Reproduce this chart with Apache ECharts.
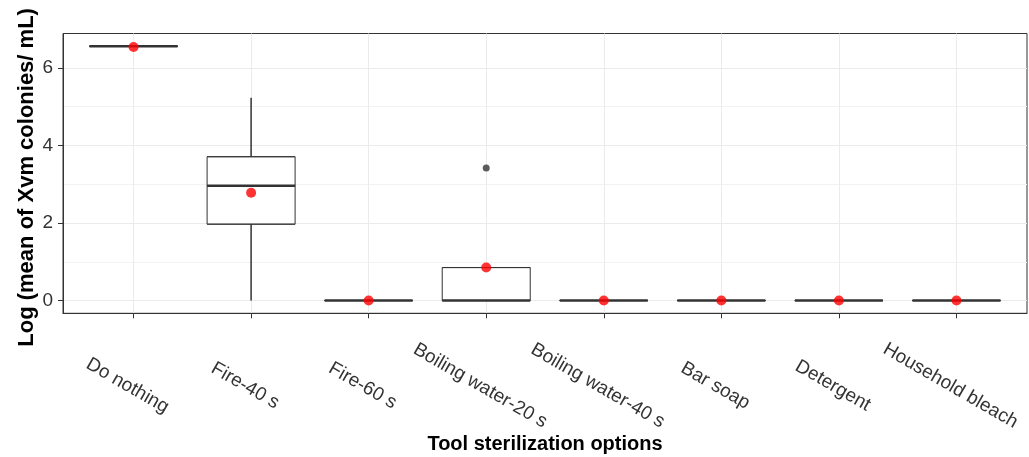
<!DOCTYPE html>
<html><head><meta charset="utf-8">
<script src="https://cdn.jsdelivr.net/npm/echarts@6/dist/echarts.min.js"></script>
<style>html,body{margin:0;padding:0;background:#fff}#c{width:1029px;height:457px}</style>
</head><body><div id="c"></div>
<script>
const categories = ['Do nothing', 'Fire-40 s', 'Fire-60 s', 'Boiling water-20 s', 'Boiling water-40 s', 'Bar soap', 'Detergent', 'Household bleach'];
// [lower whisker, Q1, median, Q3, upper whisker]
const boxStats = [
  [6.56, 6.56, 6.56, 6.56, 6.56],
  [0, 1.97, 2.96, 3.71, 5.23],
  [0, 0, 0, 0, 0],
  [0, 0, 0, 0.85, 0.85],
  [0, 0, 0, 0, 0],
  [0, 0, 0, 0, 0],
  [0, 0, 0, 0, 0],
  [0, 0, 0, 0, 0]
];
const means = [6.54, 2.78, 0, 0.85, 0, 0, 0, 0];
const outliers = [{ category: 'Boiling water-20 s', value: 3.42 }];
const yTicks = [0, 2, 4, 6];
const yMinorTicks = [1, 3, 5];
const yRange = [-0.33, 6.89];
const xRange = [-0.6, 7.6];

const idx = categories.map((c, i) => i);
const FONT = '"Liberation Sans", Arial, sans-serif';
const DARK = '#333333';

const hiddenX = () => ({ type: 'value', min: xRange[0], max: xRange[1], show: false,
  axisLine: { show: false, onZero: false }, splitLine: { show: false } });

const chart = echarts.init(document.getElementById('c'), null, { renderer: 'canvas' });
chart.setOption({
  animation: false,
  backgroundColor: '#ffffff',
  grid: { left: 63, top: 33.5, right: 2, bottom: 143.7, outerBoundsMode: 'none', containLabel: false,
    show: true, borderColor: DARK, borderWidth: 1, backgroundColor: 'transparent' },
  xAxis: [{
    type: 'value', min: xRange[0], max: xRange[1],
    axisLine: { show: true, onZero: false, lineStyle: { color: DARK, width: 1 } },
    axisTick: { show: true, customValues: idx, length: 5, lineStyle: { color: DARK, width: 1 } },
    axisLabel: {
      customValues: idx, formatter: v => categories[Math.round(v)] || '',
      rotate: -30, align: 'center', verticalAlign: 'middle', margin: 76,
      padding: [0, 14, 0, 0],
      color: '#333333', fontSize: 19, fontFamily: FONT
    },
    splitLine: { show: true, lineStyle: { color: '#ebebeb', width: 1 } },
    name: 'Tool sterilization options', nameLocation: 'middle', nameGap: 121, nameMoveOverlap: false,
    nameTextStyle: { color: '#000', fontSize: 20, fontWeight: 'bold', fontFamily: FONT }
  }, hiddenX(), hiddenX()],
  yAxis: [{
    type: 'value', min: yRange[0], max: yRange[1],
    axisLine: { show: true, onZero: false, lineStyle: { color: DARK, width: 1 } },
    axisTick: { show: true, customValues: yTicks, length: 5, lineStyle: { color: DARK, width: 1 } },
    axisLabel: { customValues: yTicks, margin: 10, color: '#333333', fontSize: 19, fontFamily: FONT },
    splitLine: { show: true, lineStyle: { color: '#ebebeb', width: 1 } },
    name: 'Log (mean of Xvm colonies/ mL)', nameLocation: 'middle', nameGap: 25, nameMoveOverlap: false,
    nameTextStyle: { color: '#000', fontSize: 22, fontWeight: 'bold', fontFamily: FONT, padding: [0, 8, 0, 0] }
  }, {
    type: 'value', min: yRange[0], max: yRange[1], position: 'left',
    axisLine: { show: false, onZero: false }, axisLabel: { show: false },
    axisTick: { show: false, customValues: yMinorTicks },
    splitLine: { show: true, lineStyle: { color: '#f2f2f2', width: 1 } }
  }],
  series: [
    {
      name: 'whiskers', type: 'boxplot', layout: 'horizontal', silent: true,
      xAxisIndex: 1, yAxisIndex: 0,
      boxWidth: [0, 0],
      itemStyle: { color: 'transparent', borderColor: DARK, borderWidth: 1 },
      data: boxStats.map((s, i) => [i, s[0], s[0], s[0], s[4], s[4]])
    },
    {
      name: 'boxes', type: 'boxplot', layout: 'horizontal', silent: true,
      xAxisIndex: 0, yAxisIndex: 0,
      boxWidth: [88, 88],
      itemStyle: { color: '#ffffff', borderColor: DARK, borderWidth: 1 },
      data: boxStats.map((s, i) => [i, s[1], s[1], s[2], s[3], s[3]])
    },
    {
      name: 'medians', type: 'boxplot', layout: 'horizontal', silent: true,
      xAxisIndex: 2, yAxisIndex: 0,
      boxWidth: [88, 88],
      itemStyle: { color: 'transparent', borderColor: DARK, borderWidth: 2.4 },
      data: boxStats.map((s, i) => [i, s[2], s[2], s[2], s[2], s[2]])
    },
    {
      name: 'outliers', type: 'scatter', silent: true, symbolSize: 7,
      xAxisIndex: 0, yAxisIndex: 0,
      itemStyle: { color: DARK },
      data: outliers.map(o => [categories.indexOf(o.category), o.value])
    },
    {
      name: 'means', type: 'scatter', silent: true, symbolSize: 10,
      xAxisIndex: 0, yAxisIndex: 0,
      itemStyle: { color: '#ff0000' },
      data: means.map((m, i) => [i, m])
    }
  ]
});
</script>
</body></html>
